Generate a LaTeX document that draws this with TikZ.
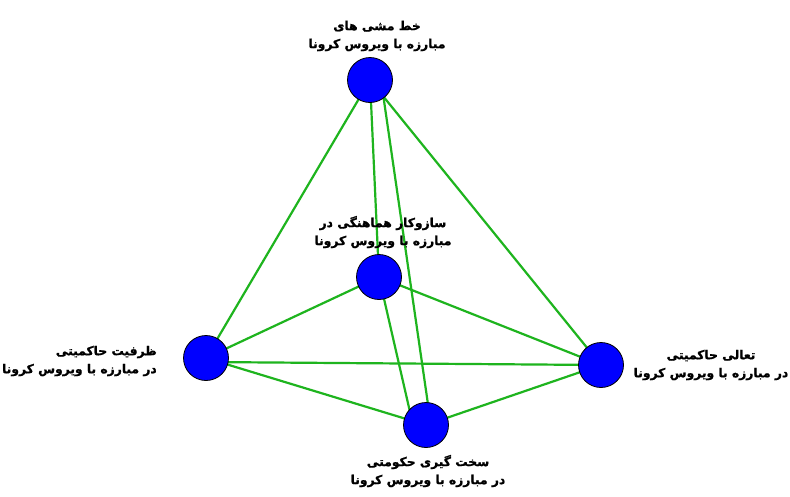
\documentclass[tikz,border=0pt]{standalone}
\usepackage{fontspec}
\newfontfamily\fafont[Script=Arabic,BoldFeatures={FakeBold=1.2}]{DejaVu Sans}
\TeXXeTstate=1
\definecolor{edgegreen}{RGB}{30,180,30}
\definecolor{nodeblue}{RGB}{0,0,255}
\begin{document}
\begin{tikzpicture}[x=1pt,y=-1pt,
  dot/.style={circle,draw=black,line width=0.8pt,fill=nodeblue,minimum size=45pt,inner sep=0pt},
  link/.style={draw=edgegreen,line width=2.2pt},
  lbl/.style={font=\fafont\bfseries\fontsize{12.3}{18}\selectfont,inner sep=0pt,align=center}]
\useasboundingbox (0,0) rectangle (790,496);
\fill[white] (0,0) rectangle (790,496);
\coordinate (pT) at (370,80);
\coordinate (pM) at (379,277);
\coordinate (pL) at (206,358);
\coordinate (pR) at (601,365);
\coordinate (pB) at (426,425);
\draw[link] (pT) -- (pL);
\draw[link] (pT) -- (pM);
\draw[link] ([xshift=11pt]pT) -- ([xshift=5pt]pB);
\draw[link] (pT) -- (pR);
\draw[link] (pM) -- (pL);
\draw[link] (pM) -- (pR);
\draw[link] (pM) -- ([xshift=-13pt]pB);
\draw[link] ([yshift=-4pt]pL) -- (pR);
\draw[link] (pL) -- (pB);
\draw[link] (pR) -- (pB);
\node[dot] (T) at (pT) {};
\node[dot] (M) at (pM) {};
\node[dot] (L) at (pL) {};
\node[dot] (R) at (pR) {};
\node[dot] (B) at (pB) {};
\node[lbl] (tT) at (377,36) {\beginR خط مشی های\endR\\\beginR مبارزه با ویروس کرونا\endR};
\node[lbl] (tM) at (383,232) {\beginR سازوکار هماهنگی در\endR\\\beginR مبارزه با ویروس کرونا\endR};
\node[lbl,align=right,anchor=east] (tL) at (157,361) {\beginR ظرفیت حاکمیتی\endR\\\beginR در مبارزه با ویروس کرونا\endR};
\node[lbl] (tR) at (711,365) {\beginR تعالی حاکمیتی\endR\\\beginR در مبارزه با ویروس کرونا\endR};
\node[lbl] (tB) at (428,471) {\beginR سخت گیری حکومتی\endR\\\beginR در مبارزه با ویروس کرونا\endR};
\end{tikzpicture}
\end{document}
